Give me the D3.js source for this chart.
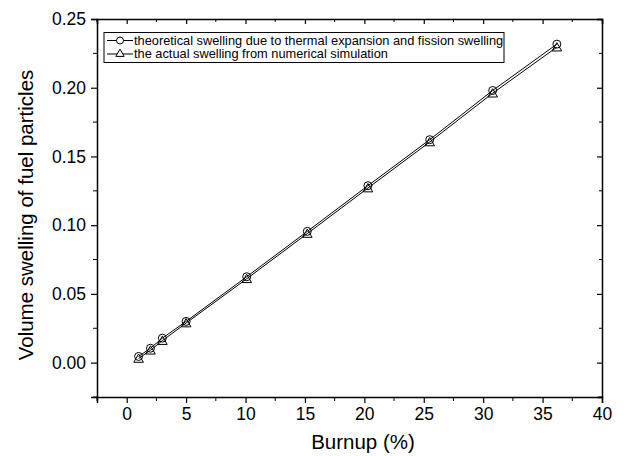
<!DOCTYPE html>
<html>
<head>
<meta charset="utf-8">
<script src="https://cdn.jsdelivr.net/npm/d3@7"></script>
<style>
  body { margin: 0; background: #fff; }
  svg { font-family: "Liberation Sans", Arial, sans-serif; }
</style>
</head>
<body>
<div id="root"></div>
<script>
// burnup values (%)
const burnup = [1.0, 2.0, 3.0, 5.0, 10.1, 15.2, 20.3, 25.5, 30.8, 36.2];
const theoretical = [0.0045, 0.0105, 0.0178, 0.030, 0.0625, 0.0955, 0.1287, 0.1622, 0.1980, 0.2317];
const actual = [0.0030, 0.0090, 0.0160, 0.0288, 0.0610, 0.0939, 0.1270, 0.1605, 0.1960, 0.2295];
const xTicks = [0, 5, 10, 15, 20, 25, 30, 35, 40];
const yTicks = [0.00, 0.05, 0.10, 0.15, 0.20, 0.25];
const legendLabels = [
  "theoretical swelling due to thermal expansion and fission swelling",
  "the actual swelling from numerical simulation"
];

const W = 627, H = 456;
const margin = {top: 19, right: 25, bottom: 59, left: 97},
    width = W - margin.left - margin.right,
    height = H - margin.top - margin.bottom;

const svg = d3.select("#root").append("svg")
    .attr("width", W)
    .attr("height", H);

const g = svg.append("g")
    .attr("transform", "translate(" + margin.left + "," + margin.top + ")");

const x = d3.scaleLinear().domain([-2.5, 40]).range([0, width]);
const y = d3.scaleLinear().domain([-0.025, 0.25]).range([height, 0]);

const xMinor = d3.range(-2.5, 40.01, 2.5).filter(v => xTicks.indexOf(v) < 0);
const yMinor = d3.range(-0.025, 0.2501, 0.025).map(v => +v.toFixed(3)).filter(v => yTicks.indexOf(v) < 0);

// bottom axis
const xAxis = g.append("g")
    .attr("transform", "translate(0," + height + ")")
    .call(d3.axisBottom(x).tickValues(xTicks).tickSize(6).tickPadding(5).tickFormat(d3.format("d")));
xAxis.append("g").selectAll("line").data(xMinor).enter().append("line")
    .attr("x1", d => x(d)).attr("x2", d => x(d)).attr("y1", 0).attr("y2", 4)
    .attr("stroke", "#000");

// left axis
const yAxis = g.append("g")
    .call(d3.axisLeft(y).tickValues(yTicks).tickSize(6).tickPadding(5).tickFormat(d3.format(".2f")));
yAxis.append("g").selectAll("line").data(yMinor).enter().append("line")
    .attr("y1", d => y(d)).attr("y2", d => y(d)).attr("x1", 0).attr("x2", -4)
    .attr("stroke", "#000");

// top and right axes, ticks inward, no labels
const topAxis = g.append("g")
    .call(d3.axisBottom(x).tickValues(xTicks).tickSize(5).tickFormat(""));
topAxis.append("g").selectAll("line").data(xMinor).enter().append("line")
    .attr("x1", d => x(d)).attr("x2", d => x(d)).attr("y1", 0).attr("y2", 3)
    .attr("stroke", "#000");

const rightAxis = g.append("g")
    .attr("transform", "translate(" + width + ",0)")
    .call(d3.axisLeft(y).tickValues(yTicks).tickSize(5).tickFormat(""));
rightAxis.append("g").selectAll("line").data(yMinor).enter().append("line")
    .attr("y1", d => y(d)).attr("y2", d => y(d)).attr("x1", 0).attr("x2", -3)
    .attr("stroke", "#000");

g.selectAll(".domain").attr("stroke-width", 1.5);
g.selectAll(".tick line").attr("stroke-width", 1.2);
xAxis.selectAll("text").attr("font-size", 17.5).attr("fill", "#000");
yAxis.selectAll("text").attr("font-size", 17.5).attr("fill", "#000");

// axis titles
svg.append("text")
    .attr("x", 363).attr("y", 449)
    .attr("text-anchor", "middle")
    .attr("font-size", 20.5)
    .text("Burnup (%)");

svg.append("text")
    .attr("transform", "translate(33,215) rotate(-90)")
    .attr("text-anchor", "middle")
    .attr("font-size", 20.5)
    .text("Volume swelling of fuel particles");

// series
const line = d3.line().x(d => x(d[0])).y(d => y(d[1]));
const tri = d3.symbol().type(d3.symbolTriangle).size(40);

const s1 = burnup.map((b, i) => [b, theoretical[i]]);
const s2 = burnup.map((b, i) => [b, actual[i]]);

g.append("path").datum(s1).attr("d", line)
    .attr("fill", "none").attr("stroke", "#000").attr("stroke-width", 1);
g.append("path").datum(s2).attr("d", line)
    .attr("fill", "none").attr("stroke", "#000").attr("stroke-width", 1);

g.selectAll(".circ").data(s1).enter().append("circle")
    .attr("class", "circ")
    .attr("cx", d => x(d[0])).attr("cy", d => y(d[1]))
    .attr("r", 4)
    .attr("fill", "none").attr("stroke", "#000").attr("stroke-width", 1);

g.selectAll(".tri").data(s2).enter().append("path")
    .attr("class", "tri")
    .attr("transform", d => "translate(" + x(d[0]) + "," + (y(d[1]) + 1) + ")")
    .attr("d", tri)
    .attr("fill", "none").attr("stroke", "#000").attr("stroke-width", 1);

// legend
const legend = svg.append("g");
legend.append("rect")
    .attr("x", 104).attr("y", 32.5).attr("width", 400).attr("height", 30)
    .attr("fill", "#fff").attr("stroke", "#000").attr("stroke-width", 1);

const item = legend.selectAll(".legend").data(legendLabels).enter().append("g")
    .attr("class", "legend")
    .attr("transform", (d, i) => "translate(0," + (40.5 + i * 13.5) + ")");
item.append("line")
    .attr("x1", 107).attr("x2", 133).attr("y1", 0).attr("y2", 0)
    .attr("stroke", "#000");
item.filter((d, i) => i === 0).append("circle")
    .attr("cx", 120).attr("cy", 0).attr("r", 3.5)
    .attr("fill", "#fff").attr("stroke", "#000");
item.filter((d, i) => i === 1).append("path")
    .attr("transform", "translate(120,0)")
    .attr("d", d3.symbol().type(d3.symbolTriangle).size(30))
    .attr("fill", "#fff").attr("stroke", "#000");
item.append("text")
    .attr("x", 134).attr("y", 0).attr("dy", "0.35em")
    .attr("font-size", 12.8)
    .text(d => d);
</script>
</body>
</html>
